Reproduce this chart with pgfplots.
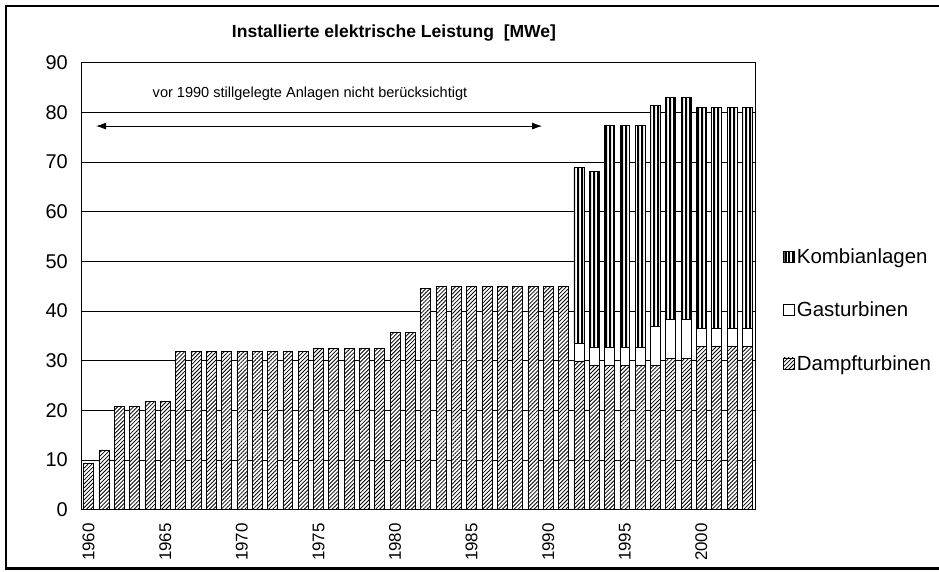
\documentclass[border=0pt]{standalone}
\usepackage{fontspec}
\setmainfont{Liberation Sans}
\usepackage{pgfplots}
\usepackage{pgfplotstable}
\pgfplotsset{compat=1.18}
\usetikzlibrary{patterns.meta,arrows.meta}

\pgfdeclarepattern{
  name=kombi, type=uncolored,
  bottom left={\pgfpoint{0pt}{0pt}},
  top right={\pgfpoint{3.7bp}{600bp}},
  tile size={\pgfpoint{3.7bp}{600bp}},
  code={\pgfpathrectangle{\pgfpoint{0pt}{0pt}}{\pgfpoint{2.3bp}{600bp}}\pgfusepath{fill}}
}

\pgfplotstableread{
x D G K
0 9.4 0 0
1 12.0 0 0
2 20.8 0 0
3 20.8 0 0
4 21.8 0 0
5 21.8 0 0
6 31.9 0 0
7 31.9 0 0
8 31.9 0 0
9 31.9 0 0
10 31.9 0 0
11 31.9 0 0
12 31.9 0 0
13 31.9 0 0
14 31.9 0 0
15 32.4 0 0
16 32.4 0 0
17 32.4 0 0
18 32.4 0 0
19 32.4 0 0
20 35.6 0 0
21 35.6 0 0
22 44.5 0 0
23 45.0 0 0
24 45.0 0 0
25 45.0 0 0
26 45.0 0 0
27 45.0 0 0
28 45.0 0 0
29 45.0 0 0
30 45.0 0 0
31 45.0 0 0
32 29.9 3.5 35.5
33 29.0 3.6 35.5
34 29.0 3.6 44.7
35 29.0 3.6 44.7
36 29.0 3.6 44.7
37 29.0 7.8 44.5
38 30.4 7.8 44.8
39 30.4 7.8 44.8
40 32.8 3.6 44.6
41 32.8 3.6 44.6
42 32.8 3.6 44.6
43 32.8 3.6 44.6
}\datatable

\begin{document}
\begin{tikzpicture}
\path[use as bounding box] (0bp,0bp) rectangle (939bp,572bp);
\draw[line width=2.5bp] (945bp,3.5bp) -- (6bp,3.5bp) -- (6bp,566bp) -- (945bp,566bp);
\node[font=\bfseries\fontsize{17.6}{20}\selectfont] at (394bp,539bp) {Installierte elektrische Leistung\ \ [MWe]};
\begin{axis}[
  at={(81bp,62.5bp)}, anchor=south west,
  scale only axis, width=674bp, height=447bp,
  ybar stacked, bar width=0.65,
  xmin=-0.5, xmax=43.5, ymin=0, ymax=90,
  ytick={0,10,...,90},
  xtick={0,5,...,40},
  xticklabels={1960,1965,1970,1975,1980,1985,1990,1995,2000},
  major tick length=0pt,
  ymajorgrids,
  major grid style={black, line width=0.6bp},
  axis line style={black, line width=0.8bp},
  /pgf/number format/assume math mode=true,
  yticklabel style={font=\fontsize{20}{24}\selectfont, inner sep=0pt},
  yticklabel shift=13bp,
  xticklabel style={font=\fontsize{17}{20}\selectfont, rotate=90, anchor=east, inner sep=0pt},
  xticklabel shift=13.5bp,
  legend style={at={(1.041,0.446)}, anchor=west, draw=none, fill=none,
    font=\fontsize{20.5}{24}\selectfont, row sep=32bp, inner sep=0pt,
    nodes={inner sep=2.5bp}},
  legend cell align=left,
  reverse legend,
  legend image code/.code={\draw[#1] (0bp,-5.5bp) rectangle (11bp,5.5bp);},
  clip=false,
]
\addplot[draw=black, line width=0.6bp, fill=white,
  postaction={pattern={Lines[angle=45,distance=2.8bp,line width=0.8bp]}, pattern color=black}]
  table[x=x,y=D]{\datatable};
\addlegendentry{Dampfturbinen}
\addplot[draw=black, line width=0.6bp, fill=white]
  table[x=x,y=G]{\datatable};
\addlegendentry{Gasturbinen}
\addplot[draw=black, line width=0.6bp, fill=white,
  postaction={pattern=kombi, pattern color=black}]
  table[x=x,y=K]{\datatable};
\addlegendentry{Kombianlagen}
\node[font=\fontsize{14.6}{17}\selectfont] at (axis cs:14.45,83.8) {vor 1990 stillgelegte Anlagen nicht berücksichtigt};
\draw[line width=0.8bp, {Latex[length=10bp,width=7bp]}-{Latex[length=10bp,width=7bp]}] (axis cs:0.48,77.2) -- (axis cs:29.6,77.2);
\end{axis}
\end{tikzpicture}
\end{document}
